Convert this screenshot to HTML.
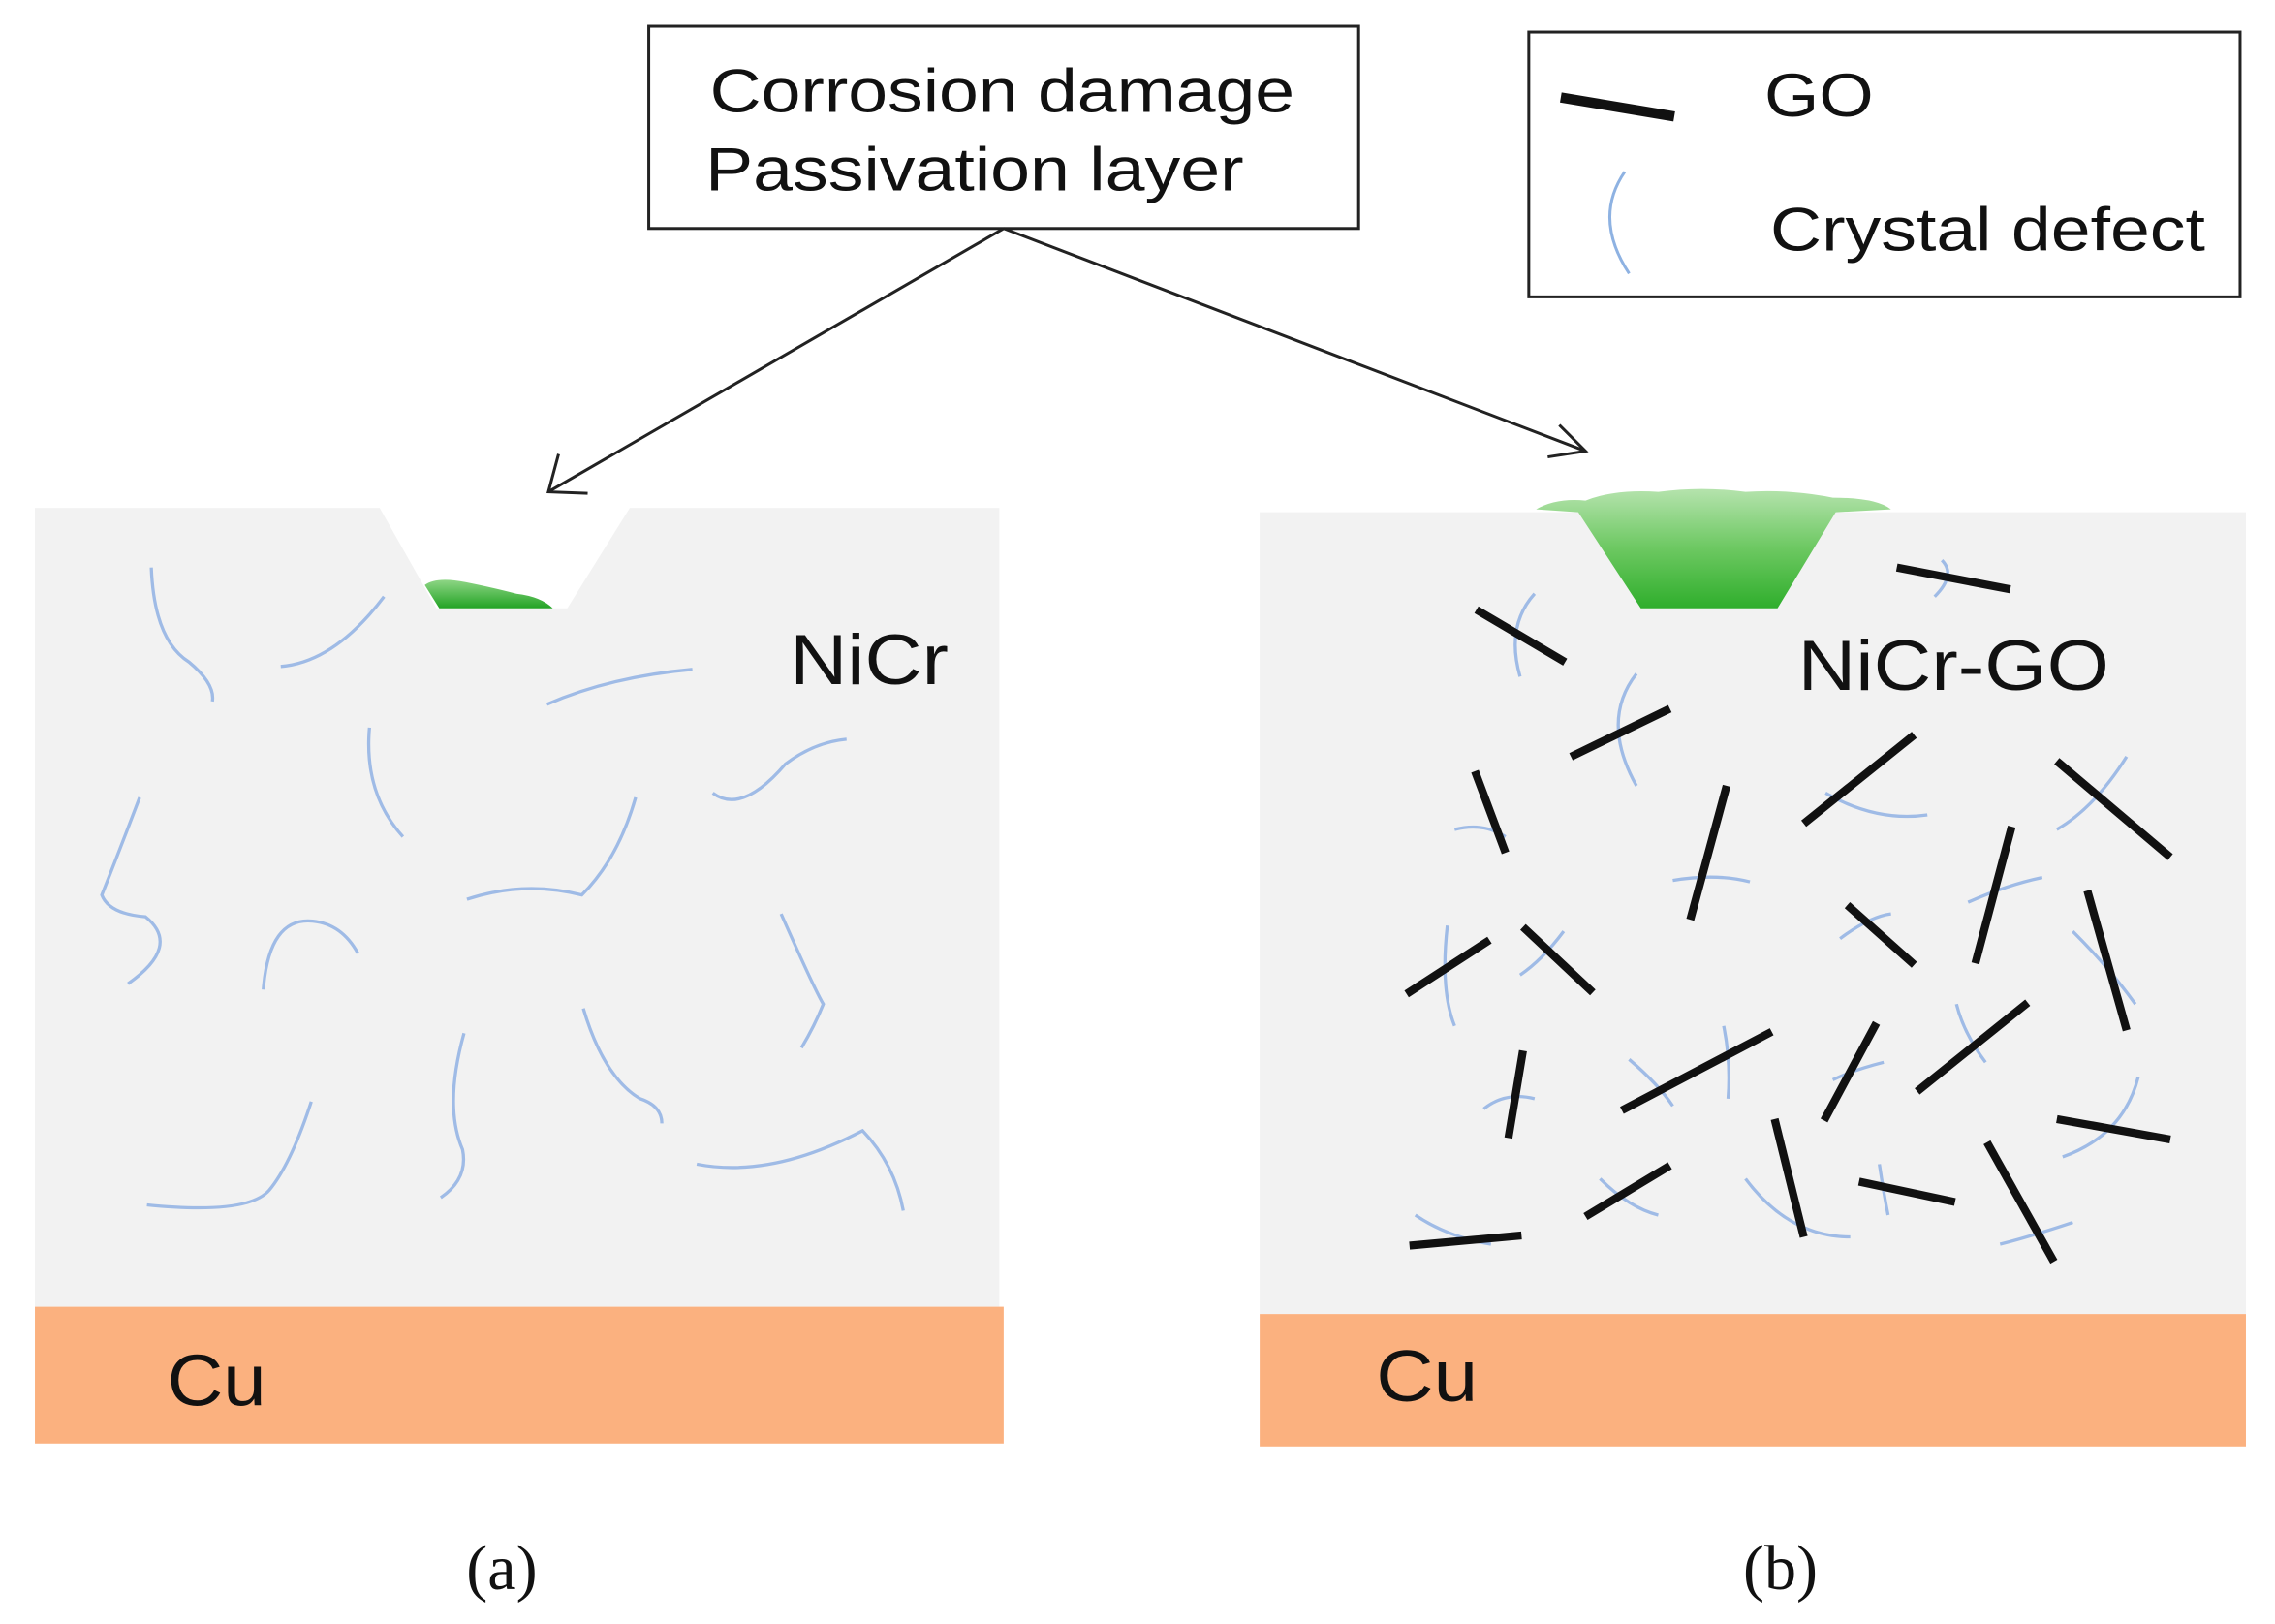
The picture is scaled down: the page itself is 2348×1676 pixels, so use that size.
<!DOCTYPE html>
<html><head><meta charset="utf-8"><style>
html,body{margin:0;padding:0;background:#fff;}
svg{display:block;}
</style></head><body>
<svg width="2348" height="1676" viewBox="0 0 1564 1116" preserveAspectRatio="none" xmlns="http://www.w3.org/2000/svg" font-family="Liberation Sans, sans-serif">
<defs>
<linearGradient id="g1" x1="0" y1="0" x2="0" y2="1">
<stop offset="0" stop-color="#b5e3ad"/><stop offset="0.5" stop-color="#6cc861"/><stop offset="1" stop-color="#2fae2c"/>
</linearGradient>
<linearGradient id="g2" x1="0" y1="0" x2="0" y2="1">
<stop offset="0" stop-color="#8fd686"/><stop offset="1" stop-color="#22a324"/>
</linearGradient>
</defs>
<rect width="1564" height="1116" fill="#fff"/>
<rect x="446" y="18" width="488" height="139" fill="#fff" stroke="#222" stroke-width="2"/>
<text x="488" y="77" font-size="42" fill="#111" textLength="402" lengthAdjust="spacingAndGlyphs">Corrosion damage</text>
<text x="485" y="131" font-size="42" fill="#111" textLength="370" lengthAdjust="spacingAndGlyphs">Passivation layer</text>
<rect x="1051" y="22" width="489" height="182" fill="#fff" stroke="#222" stroke-width="2"/>
<line x1="1073" y1="67" x2="1151" y2="80" stroke="#111" stroke-width="7"/>
<text x="1213" y="80" font-size="42" fill="#111" textLength="75" lengthAdjust="spacingAndGlyphs">GO</text>
<path d="M1117,118 Q1095,150 1120,188" fill="none" stroke="#8eb2e2" stroke-width="2"/>
<text x="1217" y="172" font-size="42" fill="#111" textLength="299" lengthAdjust="spacingAndGlyphs">Crystal defect</text>
<g stroke="#222" stroke-width="2" fill="none">
<line x1="690" y1="157" x2="377" y2="338"/>
<polyline points="384,312 377,338 404,339"/>
<line x1="690" y1="157" x2="1090" y2="310"/>
<polyline points="1072,292 1090,310 1064,314"/>
</g>
<polygon points="24,349 261,349 300,418 390,418 433,349 687,349 687,898 24,898" fill="#f2f2f2"/>
<path d="M292,402 Q300,396 320,400 Q340,404 355,408 Q372,410 380,418 L302,418 Z" fill="url(#g2)"/>
<rect x="24" y="898" width="666" height="94" fill="#fbb17f"/>
<text x="115" y="966" font-size="50" fill="#111" textLength="68" lengthAdjust="spacingAndGlyphs">Cu</text>
<text x="543" y="470" font-size="49" fill="#111" textLength="109" lengthAdjust="spacingAndGlyphs">NiCr</text>
<g fill="none" stroke="#9fbbe6" stroke-width="2.2">
<path d="M104,390 Q106,440 130,455 Q148,470 146,482"/>
<path d="M193,458 Q230,455 264,410"/>
<path d="M376,484 Q420,465 476,460"/>
<path d="M254,500 Q250,545 277,575"/>
<path d="M490,545 Q510,560 540,525 Q560,510 582,508"/>
<path d="M96,548 Q80,590 70,615 Q75,628 100,630 Q125,650 88,676"/>
<path d="M321,618 Q360,605 400,615 Q425,590 437,548"/>
<path d="M181,680 Q185,630 215,633 Q235,635 246,655"/>
<path d="M537,628 Q560,680 566,690 Q560,705 551,720"/>
<path d="M319,710 Q305,760 318,790 Q322,810 303,823"/>
<path d="M401,693 Q415,740 440,755 Q455,760 455,772"/>
<path d="M214,757 Q200,800 185,818 Q170,835 101,828"/>
<path d="M479,800 Q530,810 593,777 Q615,800 621,832"/>
</g>
<rect x="866" y="352" width="678" height="551" fill="#f2f2f2"/>
<path d="M1056,350 Q1070,342 1090,344 Q1110,336 1140,338 Q1170,334 1200,338 Q1230,336 1260,342 Q1290,342 1300,350 L1262,352 L1222,418 L1128,418 L1085,352 Z" fill="url(#g1)"/>
<rect x="866" y="903" width="678" height="91" fill="#fbb17f"/>
<text x="946" y="963" font-size="50" fill="#111" textLength="70" lengthAdjust="spacingAndGlyphs">Cu</text>
<text x="1236" y="474" font-size="49" fill="#111" textLength="214" lengthAdjust="spacingAndGlyphs">NiCr-GO</text>
<g fill="none" stroke="#9fbbe6" stroke-width="2.2">
<path d="M1335,385 Q1345,395 1330,410"/>
<path d="M1055,408 Q1035,430 1045,465"/>
<path d="M1125,463 Q1100,495 1125,540"/>
<path d="M1000,570 Q1020,565 1035,575"/>
<path d="M1255,545 Q1290,565 1325,560"/>
<path d="M1150,605 Q1180,600 1203,606"/>
<path d="M1462,520 Q1440,555 1414,570"/>
<path d="M1353,620 Q1380,608 1404,603"/>
<path d="M1265,645 Q1285,630 1300,628"/>
<path d="M995,636 Q990,680 1000,705"/>
<path d="M1075,640 Q1060,660 1045,670"/>
<path d="M1425,640 Q1450,665 1468,690"/>
<path d="M1020,762 Q1035,750 1055,755"/>
<path d="M1120,728 Q1140,745 1150,760"/>
<path d="M1185,705 Q1190,730 1188,755"/>
<path d="M1260,742 Q1275,735 1295,730"/>
<path d="M1345,690 Q1350,710 1365,730"/>
<path d="M1470,740 Q1460,780 1418,795"/>
<path d="M1100,810 Q1120,830 1140,835"/>
<path d="M1200,810 Q1230,850 1272,850"/>
<path d="M1292,800 Q1295,820 1298,835"/>
<path d="M1425,840 Q1395,850 1375,855"/>
<path d="M973,835 Q995,850 1025,855"/>
</g>
<g stroke="#111" stroke-width="5.5" stroke-linecap="butt">
<line x1="1304" y1="390" x2="1382" y2="405"/>
<line x1="1015" y1="419" x2="1076" y2="455"/>
<line x1="1080" y1="520" x2="1148" y2="487"/>
<line x1="1014" y1="530" x2="1035" y2="586"/>
<line x1="1240" y1="566" x2="1316" y2="505"/>
<line x1="1187" y1="540" x2="1162" y2="632"/>
<line x1="1414" y1="523" x2="1492" y2="589"/>
<line x1="1383" y1="568" x2="1358" y2="662"/>
<line x1="1270" y1="622" x2="1316" y2="663"/>
<line x1="967" y1="683" x2="1024" y2="646"/>
<line x1="1047" y1="637" x2="1095" y2="682"/>
<line x1="1435" y1="612" x2="1462" y2="708"/>
<line x1="1047" y1="722" x2="1037" y2="782"/>
<line x1="1115" y1="763" x2="1218" y2="709"/>
<line x1="1290" y1="703" x2="1254" y2="770"/>
<line x1="1318" y1="750" x2="1394" y2="689"/>
<line x1="1220" y1="769" x2="1240" y2="850"/>
<line x1="1414" y1="769" x2="1492" y2="783"/>
<line x1="1090" y1="836" x2="1148" y2="801"/>
<line x1="1278" y1="812" x2="1344" y2="826"/>
<line x1="1366" y1="785" x2="1412" y2="867"/>
<line x1="969" y1="856" x2="1046" y2="849"/>
</g>
<text x="345" y="1092" font-size="44" text-anchor="middle" style="font-family:'Liberation Serif',serif" fill="#111">(a)</text>
<text x="1224" y="1092" font-size="44" text-anchor="middle" style="font-family:'Liberation Serif',serif" fill="#111">(b)</text>
</svg>
</body></html>
